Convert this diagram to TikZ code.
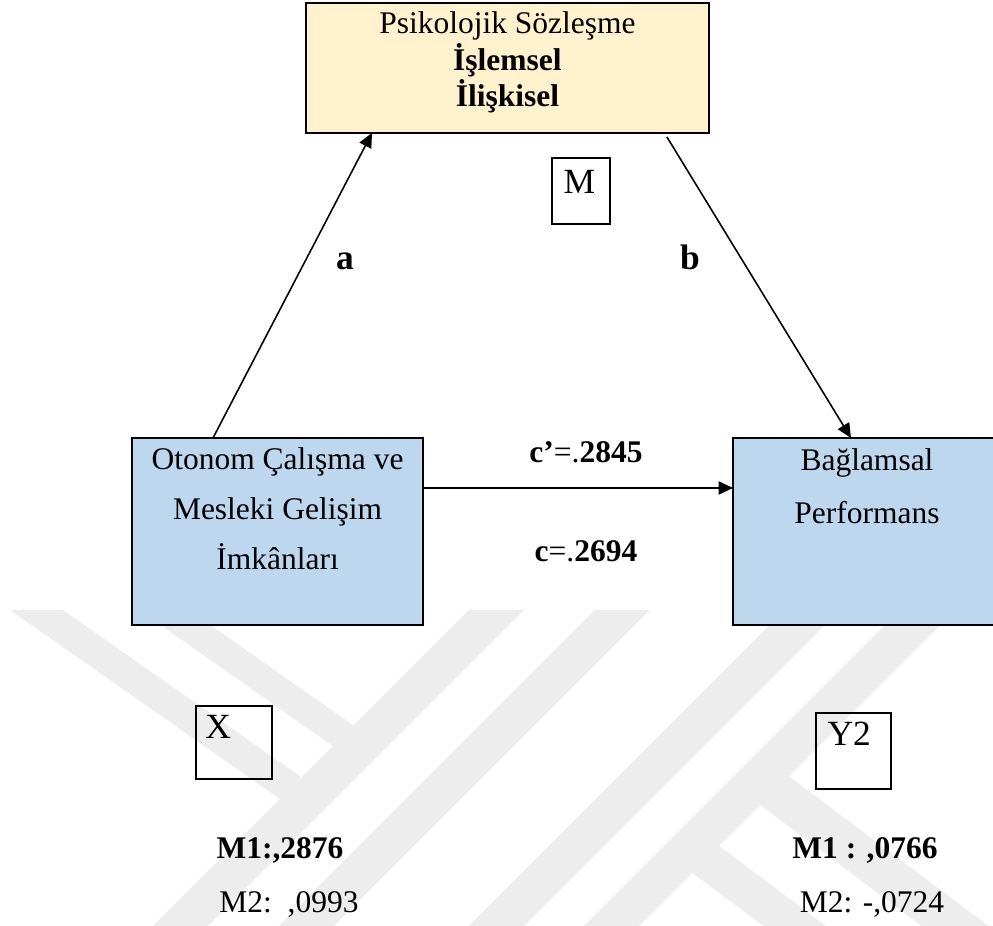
\documentclass[tikz,border=0pt]{standalone}
\usepackage{fontspec}
\setmainfont{Liberation Serif}
\usetikzlibrary{positioning,calc,arrows.meta}

\definecolor{psyfill}{HTML}{FFF2CC}
\definecolor{varfill}{HTML}{BDD7EE}
\definecolor{wmark}{HTML}{EDEDED}

\tikzset{
    varbox/.style={draw, line width=1pt, inner sep=0pt, outer sep=0pt, anchor=north west},
    tagbox/.style={draw, line width=0.8pt, inner sep=0pt, outer sep=0pt, anchor=north west},
    boxtext/.style={inner sep=0pt, align=center, font=\fontsize{12}{19}\selectfont},
    tagtext/.style={inner sep=0pt, font=\fontsize{13.5}{16}\selectfont},
    coef/.style={inner sep=0pt, anchor=base, font=\fontsize{12}{14}\selectfont},
    arr/.style={line width=0.6pt, -{Triangle[length=5.5pt,width=5pt]}}
}

\begin{document}
\begin{tikzpicture}[x=0.381pt, y=-0.381pt]

        \useasboundingbox (0,0) rectangle (993,926);

        % watermark in the background
        \begin{scope}
            \clip (0,610) rectangle (993,926);
            \path[fill=wmark] (10,610) -- (63,610) -- (318,789) -- (297,811) -- cycle;
            \path[fill=wmark] (139,610) -- (189,610) -- (370,737) -- (350,758) -- cycle;
            \foreach \s in {469,595,785,900}
                \path[fill=wmark] (\s,610) -- ++(55,0) -- ++(-316,316) -- ++(-55,0) -- cycle;
            \path[fill=wmark] (770,762) -- (1010,942) -- (1010,992) -- (740,790) -- cycle;
            \path[fill=wmark] (698,830) -- (1010,1064) -- (1010,1110) -- (671,857) -- cycle;
        \end{scope}

        % variables
        \node[varbox, fill=psyfill, minimum width=153.5pt, minimum height=49.5pt] (psy) at (306,3) {};
        \node[varbox, fill=varfill, minimum width=110.9pt, minimum height=71.2pt] (oton) at (132,438) {};
        \node[varbox, fill=varfill, minimum width=102.1pt, minimum height=71.2pt] (perf) at (733,438) {};

        \node[boxtext, font=\fontsize{12}{13.9}\selectfont, below=3.2pt of psy.north] (psytext)
            {Psikolojik Sözleşme\\\textbf{İşlemsel}\\\textbf{İlişkisel}};
        \node[boxtext, below=3.6pt of oton.north] (otontext)
            {Otonom Çalışma ve\\Mesleki Gelişim\\İmkânları};
        \node[boxtext, font=\fontsize{12}{20}\selectfont, below=4pt of perf.north] (perftext)
            {Bağlamsal\\Performans};

        % role tags
        \node[tagbox, minimum width=22.1pt, minimum height=25.1pt] (mbox) at (552,158) {};
        \node[tagbox, minimum width=29pt, minimum height=27.8pt] (xbox) at (196,706) {};
        \node[tagbox, minimum width=28.6pt, minimum height=29pt] (ybox) at (816,713) {};

        \node[tagtext, below right=4.6pt and 4.2pt of mbox.north west] (mtext) {M};
        \node[tagtext, below right=3.4pt and 3.4pt of xbox.north west] (xtext) {X};
        \node[tagtext, below right=3.4pt and 4.2pt of ybox.north west] (ytext) {Y2};

        % paths
        \draw[arr] ($(oton.north west)+(81,0)$) -- ($(psy.south west)+(66,0)$);
        \draw[arr] ($(psy.south east)+(-42,4)$) -- ($(perf.north west)+(118,0)$);
        \draw[arr] ($(oton.north east)+(0,50)$) -- ($(perf.north west)+(0,50)$);

        \node[coef, font=\fontsize{13.5}{16}\selectfont\bfseries] (alab) at (345,270) {a};
        \node[coef, font=\fontsize{13.5}{16}\selectfont\bfseries] (blab) at (690,270) {b};
        \node[coef] (cprime) at (586,463) {\textbf{c’}=.\textbf{2845}};
        \node[coef] (ctotal) at (586,562) {\textbf{c}=.\textbf{2694}};

        % model values
        \node[coef] (xmone) at (280,859) {\textbf{M1:,2876}};
        \node[coef] (xmtwo) at (289,913) {M2:\ \ ,0993};
        \node[coef] (ymone) at (865,859) {\textbf{M1 : ,0766}};
        \node[coef] (ymtwo) at (872,913) {M2: -,0724};

\end{tikzpicture}
\end{document}
